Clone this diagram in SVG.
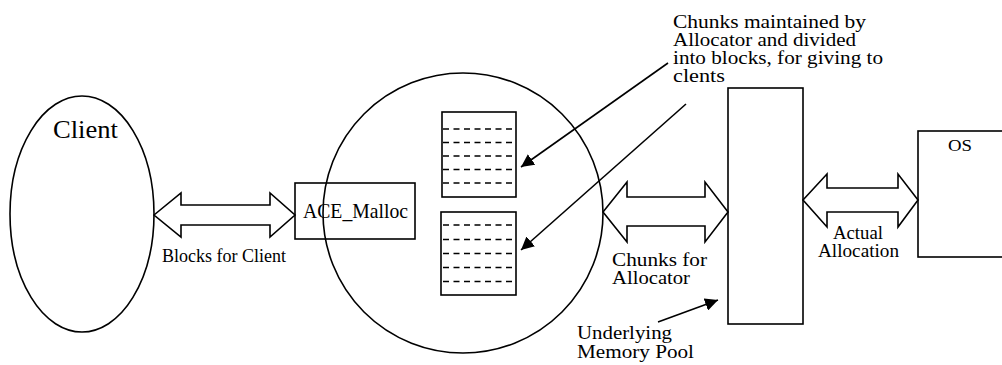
<svg xmlns="http://www.w3.org/2000/svg" width="1002" height="365" viewBox="0 0 1002 365">
<style>
.s{fill:none;stroke:#000;stroke-width:1.6}
.w{fill:#fff;stroke:#000;stroke-width:1.6}
.d{stroke:#000;stroke-width:1.5;stroke-dasharray:6 4.5}
text{font-family:"Liberation Serif","DejaVu Serif","Noto Serif",serif;fill:#000}
.t{font-size:18px}
</style>
<defs>
<marker id="ah" viewBox="0 0 10 10" refX="10" refY="5" markerWidth="13" markerHeight="13" markerUnits="userSpaceOnUse" orient="auto">
<path d="M0,0 L10,5 L0,10 z" fill="#000"/>
</marker>
</defs>
<rect width="1002" height="365" fill="#fff"/>
<g id="client">
<ellipse class="s" cx="82" cy="214" rx="72" ry="118"/>
<text x="53" y="138" font-family="Liberation Serif, DejaVu Serif, serif" font-size="25" textLength="65" lengthAdjust="spacingAndGlyphs">Client</text>
</g>
<g id="allocator-circle">
<circle class="s" cx="463" cy="213" r="140"/>
</g>
<g id="ace-malloc">
<rect class="s" x="295" y="183" width="120" height="56"/>
<text x="303" y="218" font-family="Liberation Serif, DejaVu Serif, serif" font-size="21" textLength="105" lengthAdjust="spacingAndGlyphs">ACE_Malloc</text>
</g>
<g id="chunk1">
<rect class="s" x="442" y="112" width="74" height="85"/>
<line class="d" x1="443" y1="129" x2="515" y2="129"/>
<line class="d" x1="443" y1="142.5" x2="515" y2="142.5"/>
<line class="d" x1="443" y1="156" x2="515" y2="156"/>
<line class="d" x1="443" y1="169.5" x2="515" y2="169.5"/>
<line class="d" x1="443" y1="183" x2="515" y2="183"/>
</g>
<g id="chunk2">
<rect class="s" x="441" y="212" width="75" height="83"/>
<line class="d" x1="443" y1="225" x2="515" y2="225"/>
<line class="d" x1="443" y1="239.5" x2="515" y2="239.5"/>
<line class="d" x1="443" y1="253.5" x2="515" y2="253.5"/>
<line class="d" x1="443" y1="267.5" x2="515" y2="267.5"/>
<line class="d" x1="443" y1="281.5" x2="515" y2="281.5"/>
</g>
<g id="memory-pool">
<rect class="s" x="728" y="88" width="75" height="236"/>
</g>
<g id="os">
<rect class="s" x="918" y="131" width="100" height="126"/>
<text x="948" y="151" font-family="Liberation Serif, DejaVu Serif, serif" font-size="17" textLength="24" lengthAdjust="spacingAndGlyphs">OS</text>
</g>
<g id="connectors">
<polygon class="w" points="154,215 181,193 181,205 270,205 270,193 295,215 270,237 270,225 181,225 181,237"/>
<polygon class="w" points="603,212 627,182 627,197 705,197 705,182 728,212 705,242 705,226 627,226 627,242"/>
<polygon class="w" points="803,200 827,174 827,188 898,188 898,174 918,200 898,227 898,212 827,212 827,227"/>
<line class="s" x1="668" y1="63" x2="521" y2="167" marker-end="url(#ah)"/>
<line class="s" x1="686" y1="104" x2="521" y2="250" marker-end="url(#ah)"/>
<line class="s" x1="658" y1="322" x2="718" y2="300" marker-end="url(#ah)"/>
</g>
<g id="labels" font-family="Liberation Serif, DejaVu Serif, serif">
<text class="t" x="162" y="262" font-size="19" textLength="124" lengthAdjust="spacingAndGlyphs">Blocks for Client</text>
<text class="t" x="673" y="28" textLength="193" lengthAdjust="spacingAndGlyphs">Chunks maintained by</text>
<text class="t" x="673" y="46" textLength="183" lengthAdjust="spacingAndGlyphs">Allocator and divided</text>
<text class="t" x="673" y="64" textLength="210" lengthAdjust="spacingAndGlyphs">into blocks, for giving to</text>
<text class="t" x="673" y="82" textLength="52" lengthAdjust="spacingAndGlyphs">clents</text>
<text class="t" x="612" y="266" textLength="95" lengthAdjust="spacingAndGlyphs">Chunks for</text>
<text class="t" x="612" y="284" textLength="78" lengthAdjust="spacingAndGlyphs">Allocator</text>
<text class="t" x="833" y="239" textLength="50" lengthAdjust="spacingAndGlyphs">Actual</text>
<text class="t" x="818" y="257" textLength="81" lengthAdjust="spacingAndGlyphs">Allocation</text>
<text class="t" x="577" y="339" textLength="95" lengthAdjust="spacingAndGlyphs">Underlying</text>
<text class="t" x="577" y="358" textLength="117" lengthAdjust="spacingAndGlyphs">Memory Pool</text>
</g>
</svg>
